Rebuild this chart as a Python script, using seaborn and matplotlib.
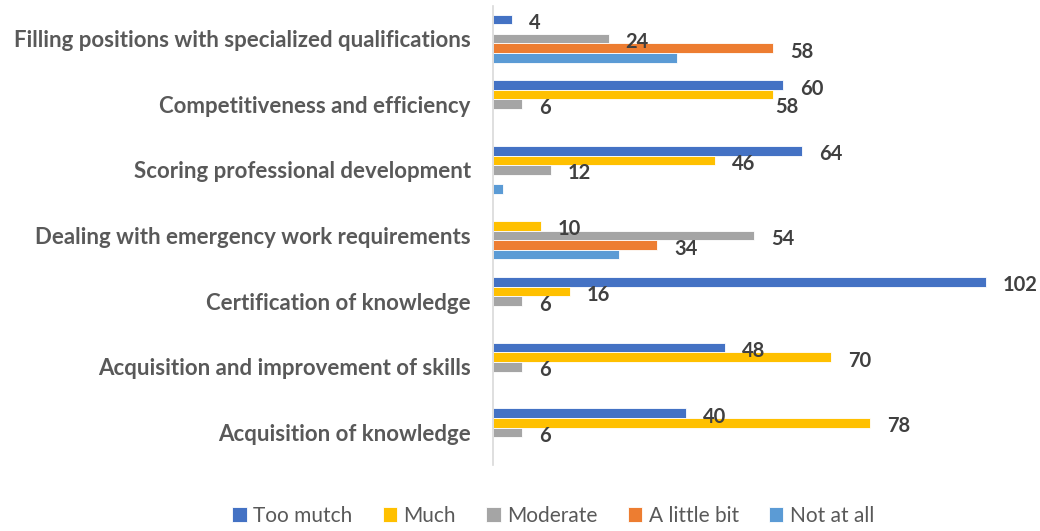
import pandas as pd
import numpy as np
import seaborn as sns
import matplotlib.pyplot as plt

# données du graphique
categories = ['Filling positions with specialized qualifications',
              'Competitiveness and efficiency',
              'Scoring professional development',
              'Dealing with emergency work requirements',
              'Certification of knowledge',
              'Acquisition and improvement of skills',
              'Acquisition of knowledge']
series = ['Too mutch', 'Much', 'Moderate', 'A little bit', 'Not at all']
too_mutch = [4, 60, 64, 0, 102, 48, 40]
much = [0, 58, 46, 10, 16, 70, 78]
moderate = [24, 6, 12, 54, 6, 6, 6]
a_little_bit = [58, 0, 0, 34, 0, 0, 0]
not_at_all = [38, 0, 2, 26, 0, 0, 0]
colors = ['#4472C4', '#FFC000', '#A5A5A5', '#ED7D31', '#5B9BD5']

# table longue pour seaborn
values = [too_mutch, much, moderate, a_little_bit, not_at_all]
rows = []
for s, vals in zip(series, values):
    for c, v in zip(categories, vals):
        rows.append({'category': c, 'level': s, 'value': v})
df = pd.DataFrame(rows)

sns.set_style('white')
plt.rcParams['font.family'] = ['Lato', 'DejaVu Sans']

fig = plt.figure(figsize=(10.4, 5.31), dpi=100)
ax = fig.add_axes([0.474, 0.124, 0.516, 0.865])

sns.barplot(data=df, y='category', x='value', hue='level', order=categories,
            hue_order=series, palette=colors, orient='h', width=0.73,
            saturation=1, edgecolor='white', linewidth=0.6, ax=ax, legend=True)

# étiquettes de valeurs (pas pour "Not at all")
for i, cont in enumerate(ax.containers):
    if series[i] == 'Not at all':
        continue
    for j, (bar, v) in enumerate(zip(cont, values[i])):
        if v == 0:
            continue
        dx, dy = 12, -2.5
        # décaler vers le bas si l'étiquette du dessus est presque au même endroit
        if i > 0 and values[i - 1][j] != 0 and abs(values[i - 1][j] - v) < 5:
            dx, dy = 1, -9
        ax.annotate(str(v), (bar.get_width(), bar.get_y() + bar.get_height() / 2),
                    xytext=(dx, dy), textcoords='offset points', va='center',
                    ha='left', fontsize=14.5, fontweight='bold', color='#404040')

ax.set_xlim(0, 111)
ax.set_ylim(6.5, -0.5)
ax.set_xlabel('')
ax.set_ylabel('')
ax.set_xticks([])
ax.tick_params(axis='y', length=0, pad=16)
for lbl in ax.get_yticklabels():
    lbl.set_fontsize(16)
    lbl.set_fontweight('bold')
    lbl.set_color('#595959')
for sp in ['top', 'right', 'bottom']:
    ax.spines[sp].set_visible(False)
ax.spines['left'].set_color('#D9D9D9')
ax.spines['left'].set_linewidth(1.2)

handles, labs = ax.get_legend_handles_labels()
ax.get_legend().remove()
fig.legend(handles, labs, loc='lower center', bbox_to_anchor=(0.532, -0.025), ncol=5,
           frameon=False, fontsize=15, handlelength=0.7, handleheight=0.7,
           columnspacing=1.45, handletextpad=0.3, labelcolor='#595959')

fig.savefig('out.png', dpi=100)
